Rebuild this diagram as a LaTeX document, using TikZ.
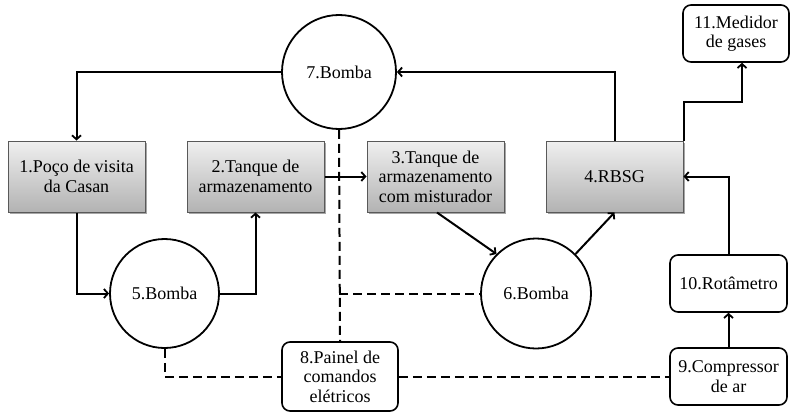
\documentclass[tikz,border=0pt]{standalone}
\usepackage{fontspec}
\setmainfont{Liberation Serif}
\usetikzlibrary{arrows.meta,shadows}
\begin{document}
\begin{tikzpicture}[x=1pt,y=-1pt,
  every node/.style={font=\fontsize{18}{19.5}\selectfont, align=center, inner sep=1pt},
  graybox/.style={rectangle, draw=black!65, line width=1pt, top color=black!6, bottom color=black!30,
     minimum width=137pt, minimum height=71pt,
     drop shadow={shadow xshift=1.5pt, shadow yshift=-1.5pt, opacity=0.35, fill=black}},
  rbox/.style={rectangle, rounded corners=8pt, draw=black, line width=1.6pt, fill=white},
  pump/.style={circle, draw=black, line width=1.8pt, fill=white},
  flow/.style={line width=2pt, -{Straight Barb[length=4pt,width=9pt,line width=1.8pt]}},
  elec/.style={line width=2pt, dash pattern=on 9pt off 5pt}
]
\useasboundingbox (0,0) rectangle (791,412);

\node[graybox] (b1) at (76.5,176.5) {1.Poço de visita\\da Casan};
\node[graybox] (b2) at (255.5,176.5) {2.Tanque de\\armazenamento};
\node[graybox] (b3) at (435.5,176.5) {3.Tanque de\\armazenamento\\com misturador};
\node[graybox] (b4) at (614.5,176.5) {4.RBSG};

\node[rbox, minimum width=106pt, minimum height=57pt] (b11) at (736,33.5) {11.Medidor\\de gases};
\node[rbox, minimum width=116pt, minimum height=69pt] (b8) at (340,376.5) {8.Painel de\\comandos\\elétricos};
\node[rbox, minimum width=117pt, minimum height=57pt] (b9) at (728.5,376.5) {9.Compressor\\de ar};
\node[rbox, minimum width=117pt, minimum height=57pt] (b10) at (728.5,283.5) {10.Rotâmetro};

\node[pump, minimum size=114pt] (c7) at (339,72) {7.Bomba};
\node[pump, minimum size=109pt] (c5) at (164.5,293.5) {5.Bomba};
\node[pump, minimum size=110pt] (c6) at (536,293.5) {6.Bomba};

% flows
\draw[flow] (c7.west) -| (b1.north);
\draw[flow] (b4.north) |- (c7.east);
\coordinate (g1) at ([yshift=39pt]b4.north east);
\draw[flow] (b4.north east) -- (g1) -| ([xshift=6pt]b11.south);
\draw[flow] (b1.south) |- (c5.west);
\draw[flow] (c5.east) -| (b2.south);
\draw[flow] (b2.east) -- (b3.west);
\draw[flow] ([xshift=1.5pt]b3.south) -- (c6.135);
\draw[flow] (c6.45) -- (b4.south);
\draw[flow] (b10.north) |- (b4.east);
\draw[flow] (b9.north) -- (b10.south);

% electrical
\draw[elec] (c7.south) -- (b8.north);
\coordinate (j) at (c7.south |- c6.west);
\draw[elec] (j) -- (c6.west);
\draw[elec] (c5.south) |- (b8.west);
\draw[elec] (b8.east) -- (b9.west);
\end{tikzpicture}
\end{document}
